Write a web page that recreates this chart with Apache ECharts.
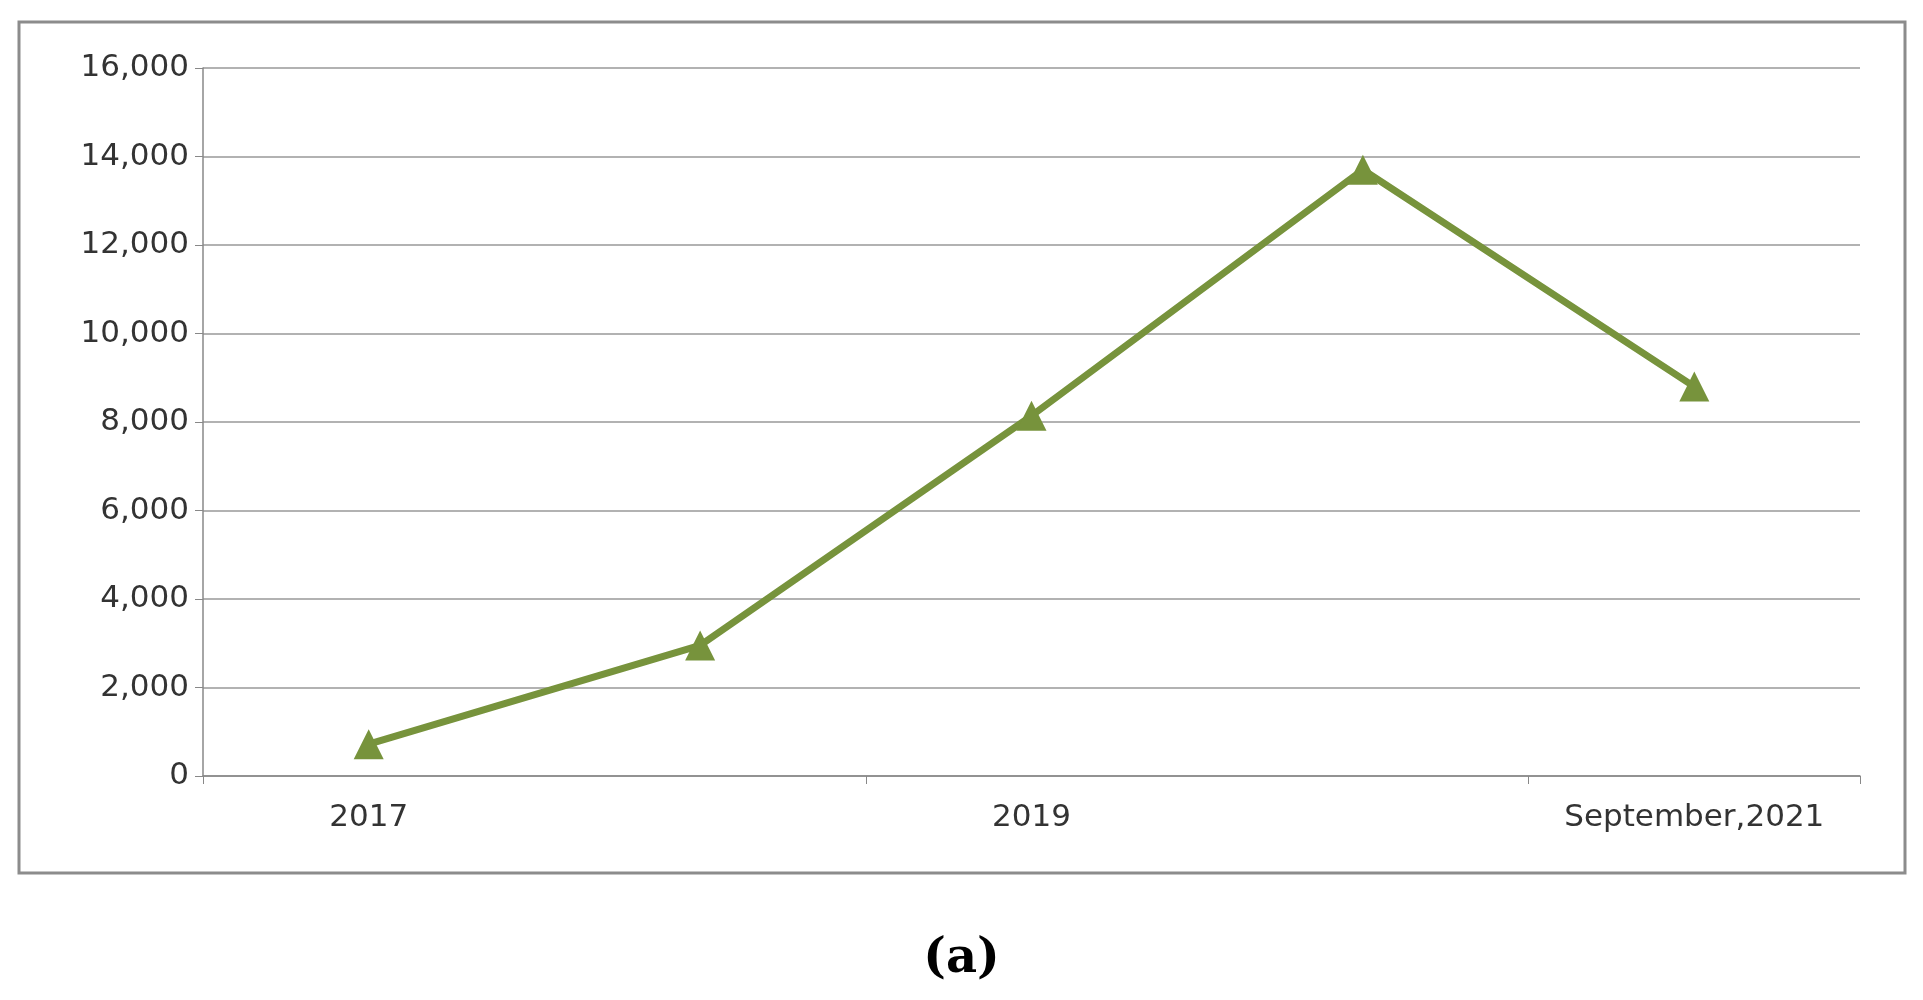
<!DOCTYPE html>
<html>
<head>
<meta charset="utf-8">
<script src="https://cdn.jsdelivr.net/npm/echarts@6/dist/echarts.min.js"></script>
<style>html,body{margin:0;padding:0;background:#fff}#chart{width:1923px;height:1000px}</style>
</head>
<body>
<div id="chart"></div>
<script>
const categories = ['2017', '2018', '2019', '2020', 'September,2021'];
const values = [720, 2950, 8140, 13700, 8800];

const chart = echarts.init(document.getElementById('chart'));
chart.setOption({
    animation: false,
    grid: { left: 203, right: 63, top: 68, bottom: 224 },
    graphic: [
        { type: 'rect', shape: { x: 19, y: 22, width: 1886, height: 851 },
          style: { fill: 'none', stroke: '#8c8c8c', lineWidth: 3 } },
        { type: 'text', left: 'center', top: 936,
          style: { text: '(a)', font: 'bold 48px "DejaVu Serif", serif', fill: '#000' } }
    ],
    xAxis: {
        type: 'category', data: categories, boundaryGap: true,
        axisLine: { lineStyle: { color: '#888', width: 1.5 } },
        axisTick: { show: true, length: 8, lineStyle: { color: '#888' } },
        axisLabel: { color: '#333', fontSize: 31, margin: 26, fontFamily: 'DejaVu Sans' }
    },
    yAxis: {
        type: 'value', min: 0, max: 16000, interval: 2000,
        axisLine: { show: true, lineStyle: { color: '#888', width: 1.5 } },
        axisTick: { show: true, inside: false, length: 8, lineStyle: { color: '#888' } },
        splitLine: { lineStyle: { color: '#999', width: 1.5 } },
        axisLabel: { color: '#333', fontSize: 31, margin: 14, fontFamily: 'DejaVu Sans',
            formatter: v => v.toLocaleString('en-US') }
    },
    series: [{
        type: 'line', data: values,
        symbol: 'triangle', symbolSize: 30,
        lineStyle: { color: '#77933c', width: 7 },
        itemStyle: { color: '#77933c' }
    }]
});
</script>
</body>
</html>
